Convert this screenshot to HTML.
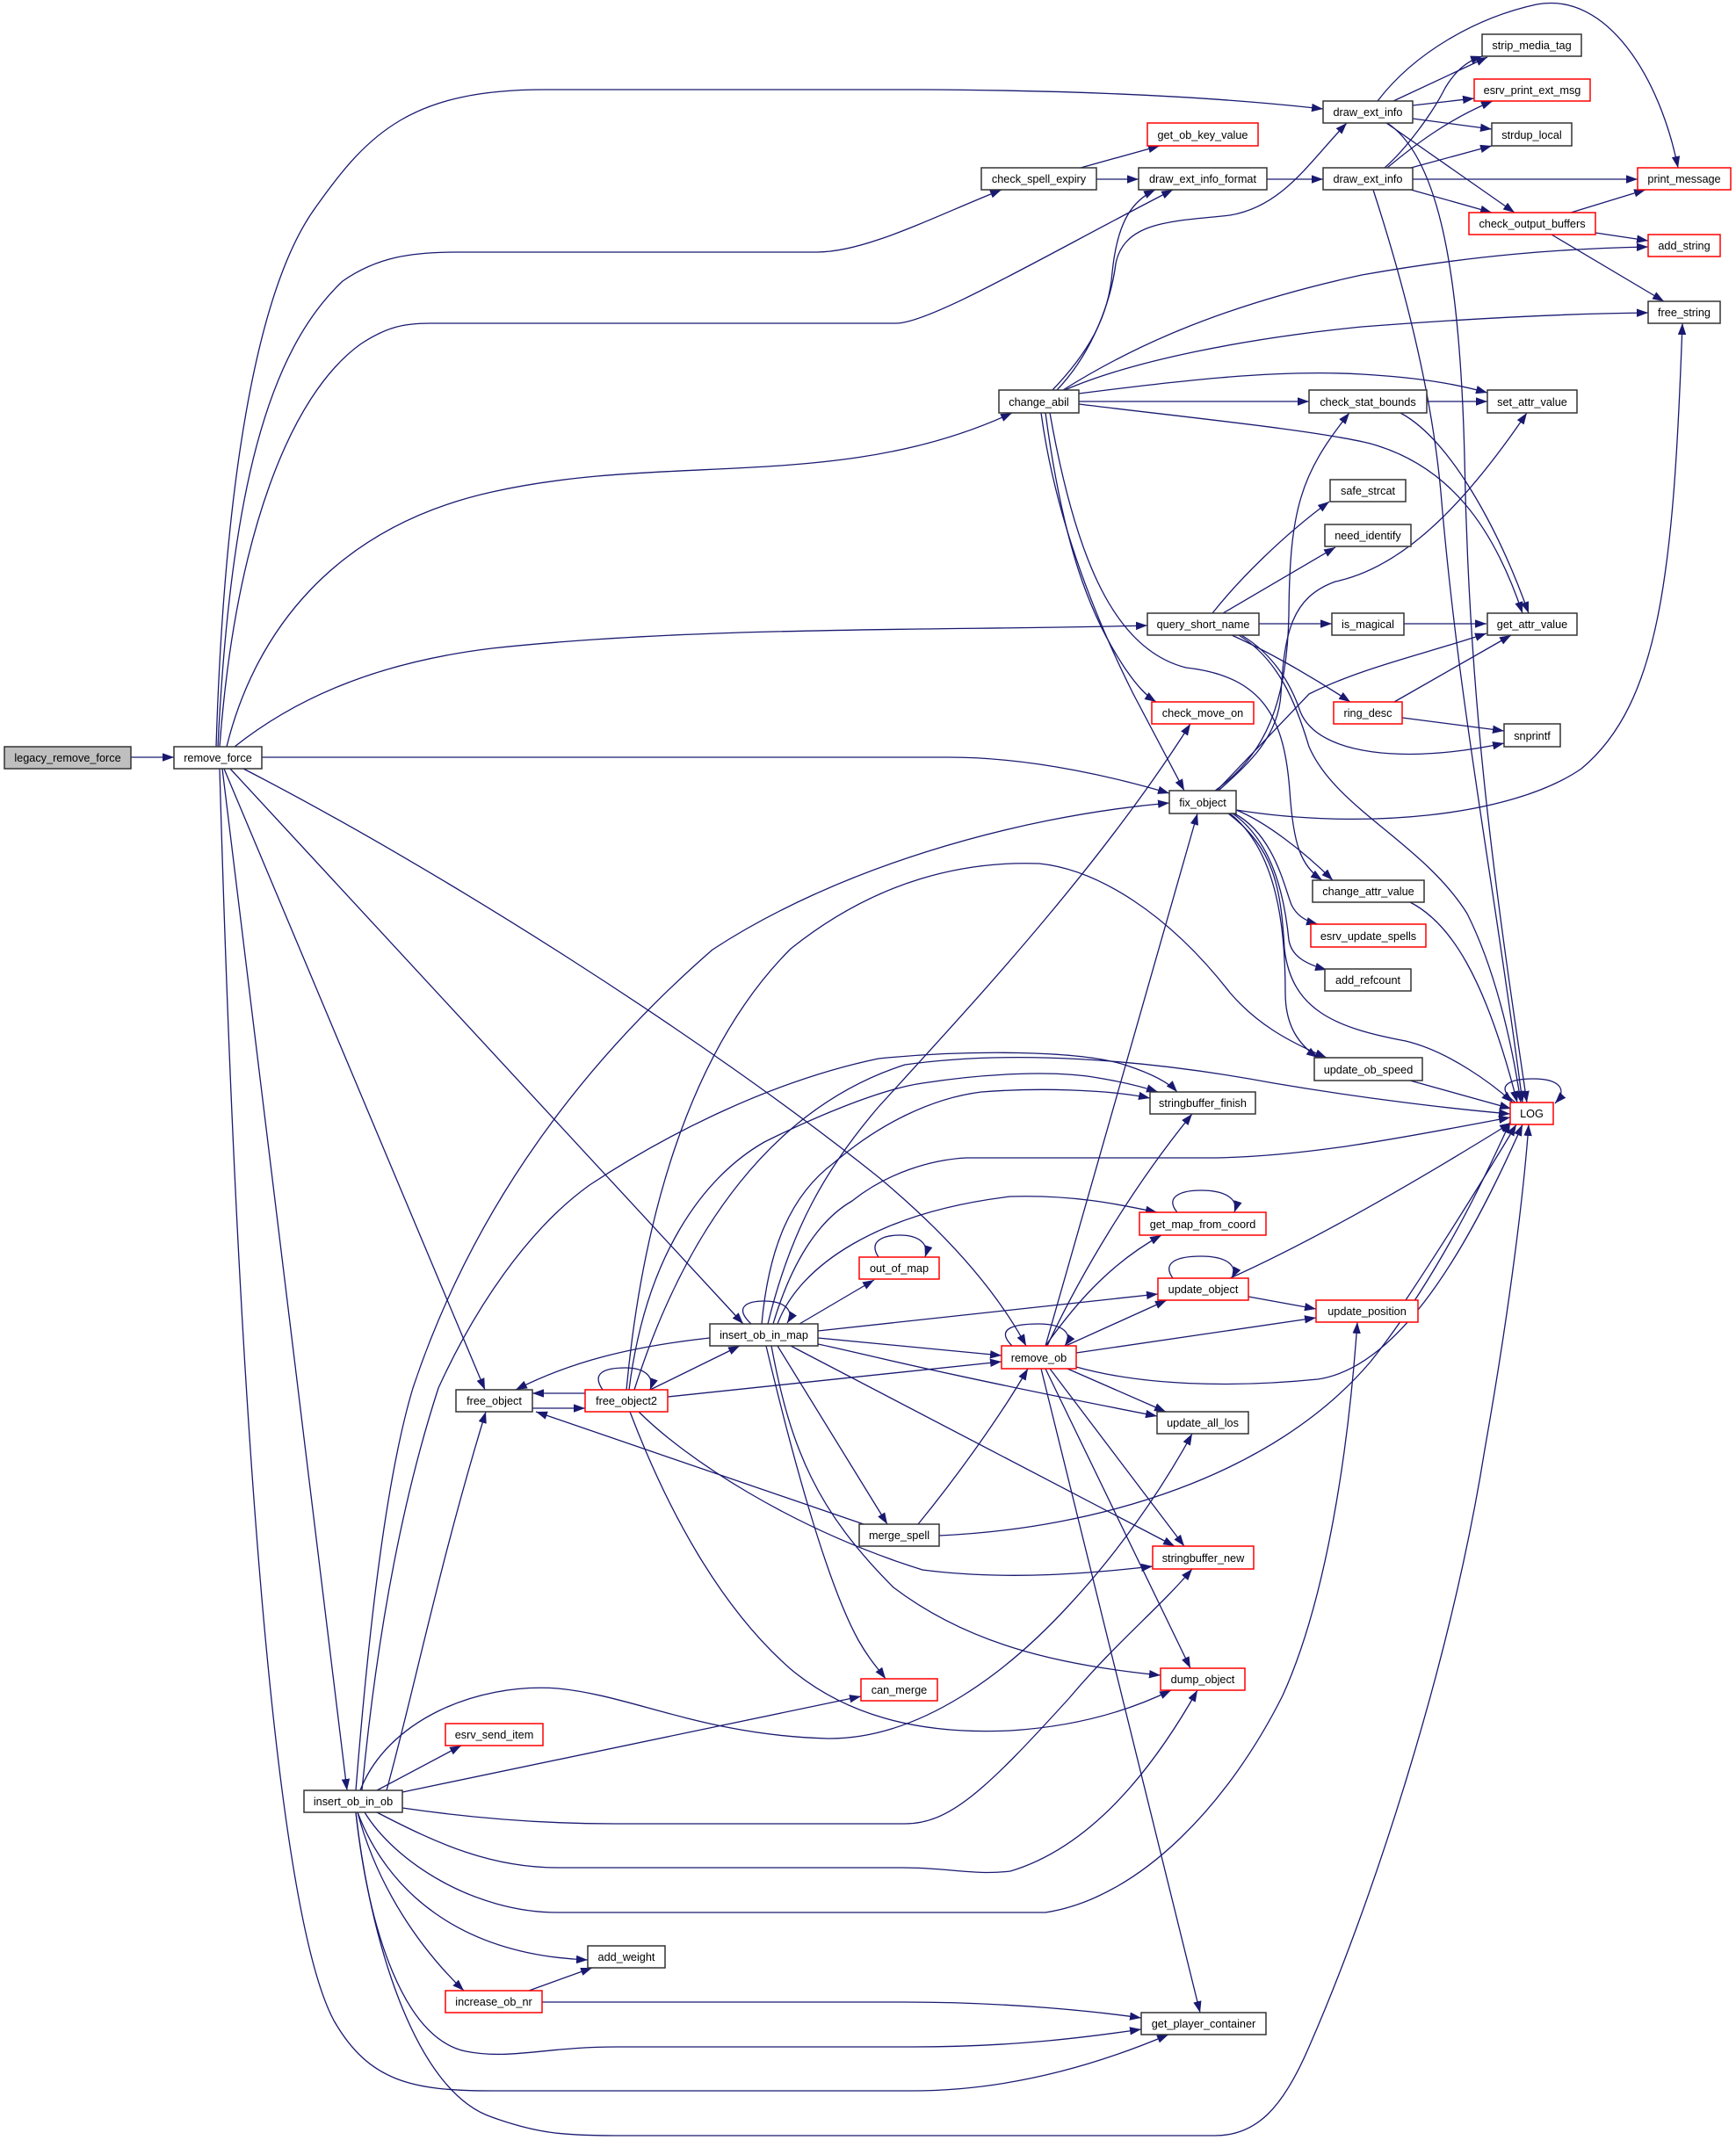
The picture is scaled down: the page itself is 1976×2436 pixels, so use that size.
<!DOCTYPE html>
<html><head><meta charset="utf-8"><style>
html,body{margin:0;padding:0;background:#fff}
svg{display:block}
.e{fill:none;stroke:#191970;stroke-width:1.3}
.n{fill:#fff;stroke:#333;stroke-width:1.5}
.r{fill:#fff;stroke:#ff0000;stroke-width:1.5}
.g{fill:#bfbfbf;stroke:#333;stroke-width:1.5}
text{font-family:"Liberation Sans",sans-serif;font-size:12.7px;fill:#000;text-anchor:middle}
</style></head><body>
<svg width="1976" height="2436" viewBox="0 0 1976 2436" xmlns="http://www.w3.org/2000/svg">
<defs><marker id="a" markerWidth="14" markerHeight="10" refX="13" refY="4.7" orient="auto" markerUnits="userSpaceOnUse"><path d="M0,0 L13,4.7 L0,9.4 z" fill="#191970"/></marker></defs>
<g class="e" marker-end="url(#a)">
<path d="M149,862 L198,862"/>
<path d="M246,850 C255,560 290,330 360,235 C420,150 470,102 620,102 L1050,102 C1250,103 1400,112 1506,124"/>
<path d="M248,850 C262,560 305,400 390,320 C430,292 470,287 520,287 L930,287 C985,287 1060,248 1140,216"/>
<path d="M250,850 C268,610 330,450 410,392 C440,372 460,368 490,368 L1020,368 C1060,368 1200,285 1335,216"/>
<path d="M258,850 C290,720 380,600 560,560 C760,515 960,560 1152,470"/>
<path d="M267,850 C330,800 420,755 560,738 C800,712 1100,718 1306,712"/>
<path d="M298,862 L1080,862 C1180,862 1280,888 1331,903"/>
<path d="M262,875 L846,1507"/>
<path d="M277,875 C500,990 800,1180 1000,1340 C1090,1415 1140,1480 1168,1532"/>
<path d="M255,875 L552,1582"/>
<path d="M253,875 L395,2038"/>
<path d="M250,875 C265,1400 300,2150 380,2300 C420,2370 470,2380 560,2380 L1038,2380 C1150,2380 1250,2350 1330,2316"/>
<path d="M1586,115 L1693,65"/>
<path d="M1608,120 L1678,112"/>
<path d="M1608,135 L1698,147"/>
<path d="M1578,140 L1724,242"/>
<path d="M1568,115 C1610,60 1680,20 1749,5 C1830,-10 1890,90 1910,191"/>
<path d="M1579,140 C1640,180 1662,320 1667,520 C1672,800 1700,1000 1738,1255"/>
<path d="M1576,191 C1600,170 1630,130 1645,100 C1660,75 1675,68 1687,64"/>
<path d="M1579,191 C1610,165 1650,135 1699,115"/>
<path d="M1606,191 L1698,166"/>
<path d="M1608,204 L1864,204"/>
<path d="M1606,216 L1698,242"/>
<path d="M1563,216 C1600,330 1630,450 1640,560 C1660,800 1700,1000 1733,1255"/>
<path d="M1788,242 L1873,216"/>
<path d="M1816,265 L1876,274"/>
<path d="M1766,267 L1894,343"/>
<path d="M1198,444 C1240,400 1262,360 1266,310 C1272,250 1290,228 1315,216"/>
<path d="M1203,444 C1245,400 1265,340 1270,300 C1280,250 1340,252 1400,245 C1460,235 1490,185 1533,140"/>
<path d="M1210,444 C1280,400 1380,350 1550,313 C1680,290 1780,283 1876,281"/>
<path d="M1212,444 C1290,410 1420,385 1550,372 C1680,362 1780,357 1876,356"/>
<path d="M1228,448 C1330,435 1450,420 1550,426 C1620,430 1660,438 1693,447"/>
<path d="M1228,457 L1490,457"/>
<path d="M1228,460 C1350,475 1500,490 1560,505 C1650,530 1700,600 1733,698"/>
<path d="M1190,470 C1210,620 1240,700 1280,760 C1295,782 1305,792 1316,799"/>
<path d="M1185,470 C1200,580 1240,690 1290,790 L1348,900"/>
<path d="M1195,470 C1225,640 1270,740 1350,760 C1440,770 1462,820 1468,900 C1472,960 1480,985 1505,1002"/>
<path d="M1624,457 L1693,457"/>
<path d="M1594,470 C1650,500 1705,600 1740,698"/>
<path d="M1230,191 L1320,166"/>
<path d="M1248,204 L1296,204"/>
<path d="M1442,204 L1506,204"/>
<path d="M1380,698 C1410,660 1460,610 1513,571"/>
<path d="M1392,698 L1520,623"/>
<path d="M1433,710 L1516,710"/>
<path d="M1402,723 C1440,740 1490,768 1537,799"/>
<path d="M1413,723 C1450,745 1470,780 1480,810 C1500,860 1600,870 1712,846"/>
<path d="M1410,723 C1455,750 1475,800 1490,850 C1520,920 1620,960 1670,1040 C1700,1100 1720,1180 1731,1255"/>
<path d="M1598,710 L1692,710"/>
<path d="M1587,799 L1720,723"/>
<path d="M1596,817 L1712,832"/>
<path d="M1387,900 C1420,870 1455,840 1458,790 C1462,720 1470,680 1520,662 C1600,645 1670,570 1738,470"/>
<path d="M1383,900 C1440,860 1465,800 1467,700 C1468,580 1480,540 1536,470"/>
<path d="M1385,900 L1490,790 C1550,760 1620,745 1692,721"/>
<path d="M1407,922 C1550,945 1720,930 1800,875 C1890,800 1905,650 1915,368"/>
<path d="M1407,922 C1440,935 1485,970 1517,1002"/>
<path d="M1405,926 C1450,950 1462,1010 1470,1030 C1476,1042 1485,1048 1500,1052"/>
<path d="M1403,926 C1452,960 1463,1030 1467,1070 C1470,1088 1485,1097 1510,1104"/>
<path d="M1400,926 C1455,970 1463,1060 1463,1130 C1463,1170 1480,1190 1500,1204"/>
<path d="M1398,926 C1450,965 1458,1010 1462,1080 C1470,1150 1520,1170 1600,1185 C1650,1197 1700,1235 1722,1255"/>
<path d="M1605,1027 C1650,1050 1690,1110 1727,1255"/>
<path d="M1605,1230 L1720,1262"/>
<path d="M1725,1255 C1700,1236 1718,1228 1745,1228 C1775,1228 1785,1240 1770,1256"/>
<path d="M855,1507 C835,1488 850,1481 870,1481 C893,1481 905,1492 896,1506"/>
<path d="M874,1507 C900,1400 940,1330 1000,1260 C1100,1150 1250,990 1355,824"/>
<path d="M867,1507 C875,1420 900,1360 950,1323 C1000,1280 1060,1250 1117,1243 C1180,1238 1260,1240 1309,1250"/>
<path d="M880,1507 C900,1440 930,1390 970,1367 C1010,1335 1060,1320 1100,1318 L1383,1318 C1500,1316 1620,1290 1719,1272"/>
<path d="M885,1507 C910,1440 1000,1380 1150,1362 C1220,1360 1270,1370 1317,1380"/>
<path d="M910,1507 L995,1457"/>
<path d="M931,1515 L1318,1473"/>
<path d="M931,1523 L1140,1543"/>
<path d="M931,1530 C980,1540 1050,1560 1317,1612"/>
<path d="M808,1523 C717,1533 650,1550 587,1582"/>
<path d="M885,1532 L1010,1735"/>
<path d="M900,1532 L1337,1760"/>
<path d="M878,1532 C900,1650 930,1720 1017,1807 C1100,1870 1200,1895 1321,1907"/>
<path d="M872,1532 C900,1650 940,1800 977,1867 C990,1890 1000,1900 1008,1911"/>
<path d="M1152,1532 C1132,1512 1155,1507 1182,1507 C1210,1507 1222,1518 1212,1532"/>
<path d="M1190,1532 L1363,926"/>
<path d="M1192,1532 C1230,1450 1290,1350 1357,1268"/>
<path d="M1190,1532 C1220,1490 1260,1440 1322,1406"/>
<path d="M1213,1532 L1328,1480"/>
<path d="M1225,1540 L1498,1500"/>
<path d="M1225,1556 C1300,1577 1400,1580 1500,1570 C1600,1555 1680,1400 1733,1280"/>
<path d="M1215,1558 L1327,1607"/>
<path d="M1195,1558 L1348,1760"/>
<path d="M1190,1558 L1355,1899"/>
<path d="M1185,1558 L1366,2291"/>
<path d="M1335,1455 C1322,1437 1340,1430 1367,1430 C1395,1430 1410,1440 1402,1455"/>
<path d="M1400,1455 C1500,1410 1620,1340 1720,1278"/>
<path d="M1421,1476 L1498,1490"/>
<path d="M1340,1380 C1325,1362 1345,1355 1367,1355 C1395,1355 1410,1365 1405,1380"/>
<path d="M1000,1431 C988,1413 1005,1406 1024,1406 C1045,1406 1058,1415 1053,1431"/>
<path d="M1600,1480 C1640,1420 1690,1340 1726,1280"/>
<path d="M1045,1735 C1090,1680 1140,1610 1170,1558"/>
<path d="M1069,1748 C1250,1740 1450,1680 1560,1550 C1640,1450 1695,1330 1719,1277"/>
<path d="M983,1735 L610,1607"/>
<path d="M686,1582 C672,1562 690,1557 712,1557 C735,1557 745,1568 740,1582"/>
<path d="M666,1586 L606,1586"/>
<path d="M606,1603 L666,1603"/>
<path d="M740,1582 L842,1532"/>
<path d="M760,1590 L1140,1550"/>
<path d="M727,1607 C780,1660 900,1740 1050,1787 C1150,1800 1250,1790 1312,1783"/>
<path d="M717,1607 C760,1720 820,1830 900,1900 C960,1950 1040,1975 1150,1970 C1230,1965 1290,1945 1333,1924"/>
<path d="M713,1582 C730,1400 780,1200 900,1080 C1000,1000 1100,980 1183,983 C1250,990 1330,1040 1400,1130 C1430,1165 1465,1185 1510,1204"/>
<path d="M716,1582 C735,1430 800,1340 870,1300 C920,1275 1000,1240 1050,1233 C1120,1222 1200,1218 1250,1227 C1280,1232 1300,1237 1318,1243"/>
<path d="M722,1582 C780,1400 880,1260 1030,1212 C1150,1195 1300,1205 1450,1233 C1550,1250 1650,1262 1719,1268"/>
<path d="M429,2038 L525,1987"/>
<path d="M458,2040 L980,1931"/>
<path d="M410,2038 C440,1960 540,1915 635,1922 C720,1930 800,1975 942,1979 C1050,1980 1150,1900 1217,1827 C1270,1770 1320,1700 1357,1632"/>
<path d="M458,2058 C540,2070 620,2076 700,2076 L1030,2076 C1080,2076 1120,2040 1217,1933 C1270,1870 1320,1830 1357,1786"/>
<path d="M429,2063 C500,2100 560,2126 635,2126 L1028,2126 C1080,2126 1110,2135 1150,2130 C1250,2100 1320,2000 1363,1924"/>
<path d="M415,2063 C450,2120 540,2177 635,2177 L1190,2177 C1300,2160 1400,2050 1460,1930 C1510,1820 1535,1650 1545,1505"/>
<path d="M407,2063 C440,2150 520,2225 669,2231"/>
<path d="M407,2063 C430,2150 480,2220 528,2266"/>
<path d="M405,2063 C420,2200 460,2320 530,2335 C580,2345 620,2330 702,2330 L1038,2330 C1150,2330 1230,2320 1299,2310"/>
<path d="M405,2063 C420,2200 470,2380 560,2410 C610,2428 640,2431 700,2431 L1383,2431 C1430,2431 1460,2400 1490,2330 C1560,2170 1650,1900 1690,1650 C1720,1480 1735,1350 1740,1280"/>
<path d="M440,2038 C470,1930 500,1780 553,1607"/>
<path d="M405,2038 C420,1850 440,1680 470,1580 C530,1400 640,1230 811,1081 C950,990 1150,930 1331,914"/>
<path d="M412,2038 C430,1850 460,1700 499,1580 C540,1490 600,1400 671,1349 C760,1290 880,1230 1000,1205 C1100,1195 1230,1195 1283,1213 C1310,1222 1330,1232 1340,1243"/>
<path d="M602,2266 L674,2240"/>
<path d="M617,2279 L1028,2279 C1150,2279 1250,2290 1299,2297"/>
</g>
<g>
<rect class="g" x="5" y="850" width="144" height="25"/><text x="77" y="867">legacy_remove_force</text>
<rect class="n" x="198" y="850" width="100" height="25"/><text x="248" y="867">remove_force</text>
<rect class="n" x="1506" y="115" width="102" height="25"/><text x="1557" y="132">draw_ext_info</text>
<rect class="n" x="1687" y="39" width="113" height="25"/><text x="1743.5" y="56">strip_media_tag</text>
<rect class="r" x="1678" y="90" width="132" height="25"/><text x="1744" y="107">esrv_print_ext_msg</text>
<rect class="n" x="1698" y="140" width="91" height="26"/><text x="1743.5" y="158">strdup_local</text>
<rect class="r" x="1306" y="140" width="126" height="26"/><text x="1369" y="158">get_ob_key_value</text>
<rect class="n" x="1117" y="191" width="131" height="25"/><text x="1182.5" y="208">check_spell_expiry</text>
<rect class="n" x="1296" y="191" width="146" height="25"/><text x="1369" y="208">draw_ext_info_format</text>
<rect class="n" x="1506" y="191" width="102" height="25"/><text x="1557" y="208">draw_ext_info</text>
<rect class="r" x="1864" y="191" width="106" height="25"/><text x="1917" y="208">print_message</text>
<rect class="r" x="1672" y="242" width="144" height="25"/><text x="1744" y="259">check_output_buffers</text>
<rect class="r" x="1876" y="267" width="82" height="25"/><text x="1917" y="284">add_string</text>
<rect class="n" x="1876" y="343" width="82" height="25"/><text x="1917" y="360">free_string</text>
<rect class="n" x="1137" y="444" width="91" height="26"/><text x="1182.5" y="462">change_abil</text>
<rect class="n" x="1490" y="444" width="134" height="26"/><text x="1557" y="462">check_stat_bounds</text>
<rect class="n" x="1693" y="444" width="102" height="26"/><text x="1744" y="462">set_attr_value</text>
<rect class="n" x="1514" y="546" width="86" height="25"/><text x="1557" y="563">safe_strcat</text>
<rect class="n" x="1508" y="597" width="98" height="25"/><text x="1557" y="614">need_identify</text>
<rect class="n" x="1306" y="698" width="127" height="25"/><text x="1369.5" y="715">query_short_name</text>
<rect class="n" x="1516" y="698" width="82" height="25"/><text x="1557" y="715">is_magical</text>
<rect class="n" x="1693" y="698" width="102" height="25"/><text x="1744" y="715">get_attr_value</text>
<rect class="r" x="1518" y="799" width="78" height="25"/><text x="1557" y="816">ring_desc</text>
<rect class="n" x="1712" y="824" width="64" height="26"/><text x="1744" y="842">snprintf</text>
<rect class="r" x="1311" y="799" width="116" height="25"/><text x="1369" y="816">check_move_on</text>
<rect class="n" x="1331" y="900" width="76" height="26"/><text x="1369" y="918">fix_object</text>
<rect class="n" x="1494" y="1002" width="127" height="25"/><text x="1557.5" y="1019">change_attr_value</text>
<rect class="r" x="1492" y="1052" width="131" height="26"/><text x="1557.5" y="1070">esrv_update_spells</text>
<rect class="n" x="1508" y="1103" width="98" height="25"/><text x="1557" y="1120">add_refcount</text>
<rect class="n" x="1496" y="1204" width="123" height="26"/><text x="1557.5" y="1222">update_ob_speed</text>
<rect class="r" x="1719" y="1255" width="49" height="25"/><text x="1743.5" y="1272">LOG</text>
<rect class="n" x="1309" y="1243" width="120" height="25"/><text x="1369" y="1260">stringbuffer_finish</text>
<rect class="r" x="1297" y="1380" width="144" height="26"/><text x="1369" y="1398">get_map_from_coord</text>
<rect class="r" x="978" y="1431" width="91" height="25"/><text x="1023.5" y="1448">out_of_map</text>
<rect class="r" x="1318" y="1455" width="103" height="25"/><text x="1369.5" y="1472">update_object</text>
<rect class="n" x="808" y="1507" width="123" height="25"/><text x="869.5" y="1524">insert_ob_in_map</text>
<rect class="r" x="1498" y="1480" width="116" height="25"/><text x="1556" y="1497">update_position</text>
<rect class="r" x="1140" y="1532" width="85" height="26"/><text x="1182.5" y="1550">remove_ob</text>
<rect class="n" x="519" y="1582" width="87" height="25"/><text x="562.5" y="1599">free_object</text>
<rect class="r" x="666" y="1582" width="94" height="25"/><text x="713" y="1599">free_object2</text>
<rect class="n" x="1317" y="1607" width="104" height="25"/><text x="1369" y="1624">update_all_los</text>
<rect class="n" x="978" y="1735" width="91" height="25"/><text x="1023.5" y="1752">merge_spell</text>
<rect class="r" x="1312" y="1760" width="115" height="26"/><text x="1369.5" y="1778">stringbuffer_new</text>
<rect class="r" x="980" y="1911" width="87" height="25"/><text x="1023.5" y="1928">can_merge</text>
<rect class="r" x="1321" y="1899" width="96" height="25"/><text x="1369" y="1916">dump_object</text>
<rect class="r" x="507" y="1962" width="111" height="25"/><text x="562.5" y="1979">esrv_send_item</text>
<rect class="n" x="346" y="2038" width="112" height="25"/><text x="402" y="2055">insert_ob_in_ob</text>
<rect class="n" x="669" y="2215" width="88" height="25"/><text x="713" y="2232">add_weight</text>
<rect class="r" x="507" y="2266" width="110" height="25"/><text x="562" y="2283">increase_ob_nr</text>
<rect class="n" x="1299" y="2291" width="142" height="25"/><text x="1370" y="2308">get_player_container</text>
</g>
</svg>
</body></html>
